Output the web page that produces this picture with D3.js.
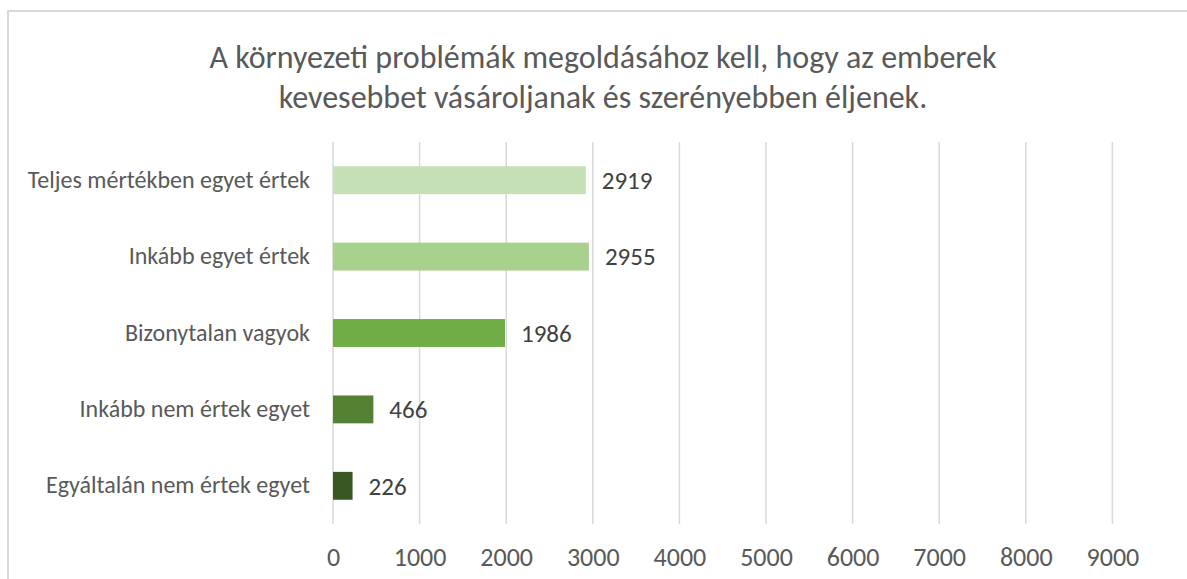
<!DOCTYPE html>
<html>
<head>
<meta charset="utf-8">
<script src="https://cdn.jsdelivr.net/npm/d3@7"></script>
<style>
  html, body { margin: 0; padding: 0; background: #fff; }
  svg { display: block; }
  text { font-family: Carlito, Lato, sans-serif; }
</style>
</head>
<body>
<div id="chart"></div>
<script>
// data
const categories = [
    "Teljes mértékben egyet értek",
    "Inkább egyet értek",
    "Bizonytalan vagyok",
    "Inkább nem értek egyet",
    "Egyáltalán nem értek egyet"
];
const values = [2919, 2955, 1986, 466, 226];
const barColors = ["#c5e0b4", "#a9d18e", "#70ad47", "#548235", "#385723"];
const xTicks = [0, 1000, 2000, 3000, 4000, 5000, 6000, 7000, 8000, 9000];
const titleLines = [
    "A környezeti problémák megoldásához kell, hogy az emberek",
    "kevesebbet vásároljanak és szerényebben éljenek."
];

const width = 1187, height = 579;

const svg = d3.select('#chart')
    .append('svg')
    .attr('width', width)
    .attr('height', height);

// chart frame, runs off the right and bottom edge
svg.append('rect')
    .attr('x', 8)
    .attr('y', 11)
    .attr('width', 1300)
    .attr('height', 700)
    .attr('fill', '#fff')
    .attr('stroke', '#d9d9d9')
    .attr('stroke-width', 2);

svg.append('text')
    .attr('x', 603)
    .attr('y', 57)
    .attr('text-anchor', 'middle')
    .attr('fill', '#595959')
    .style('font-size', '32px')
    .style('font-weight', 300)
    .selectAll('tspan')
    .data(titleLines)
    .join('tspan')
    .attr('x', 603)
    .attr('dy', (d, i) => i === 0 ? '0.35em' : 40)
    .text(d => d);

const x = d3.scaleLinear()
    .domain([0, 10000])
    .range([333, 1199]);

const y = d3.scaleBand()
    .domain(categories)
    .range([142, 524])
    .paddingInner(0.635)
    .paddingOuter(0.3175);

// gridlines
svg.append('g')
    .selectAll('line')
    .data(xTicks)
    .join('line')
    .attr('x1', d => x(d))
    .attr('x2', d => x(d))
    .attr('y1', 142)
    .attr('y2', 524)
    .attr('stroke', '#d9d9d9')
    .attr('stroke-width', 1.5);

// x axis labels
const xAxis = svg.append('g')
    .attr('transform', 'translate(0,524)')
    .call(d3.axisBottom(x).tickValues(xTicks).tickSize(0).tickPadding(24).tickFormat(d3.format('d')));
xAxis.select('.domain').remove();
xAxis.selectAll('text')
    .attr('fill', '#595959')
    .style('font-size', '26px')
    .style('font-weight', 300)
    .style('font-family', 'Carlito, Lato, sans-serif');

// y axis labels
const yAxis = svg.append('g')
    .attr('transform', 'translate(333,0)')
    .call(d3.axisLeft(y).tickSize(0).tickPadding(23));
yAxis.select('.domain').remove();
yAxis.selectAll('text')
    .attr('fill', '#595959')
    .style('font-size', '24px')
    .style('font-weight', 300)
    .style('font-family', 'Carlito, Lato, sans-serif');

// bars
svg.append('g')
    .selectAll('rect')
    .data(values)
    .join('rect')
    .attr('x', x(0))
    .attr('y', (d, i) => y(categories[i]))
    .attr('width', d => x(d) - x(0))
    .attr('height', y.bandwidth())
    .attr('fill', (d, i) => barColors[i]);

// value labels
svg.append('g')
    .selectAll('text')
    .data(values)
    .join('text')
    .attr('x', d => x(d) + 16)
    .attr('y', (d, i) => y(categories[i]) + y.bandwidth() / 2)
    .attr('dy', '0.35em')
    .attr('fill', '#404040')
    .style('font-size', '25px')
    .style('font-weight', 300)
    .text(d => d);
</script>
</body>
</html>
